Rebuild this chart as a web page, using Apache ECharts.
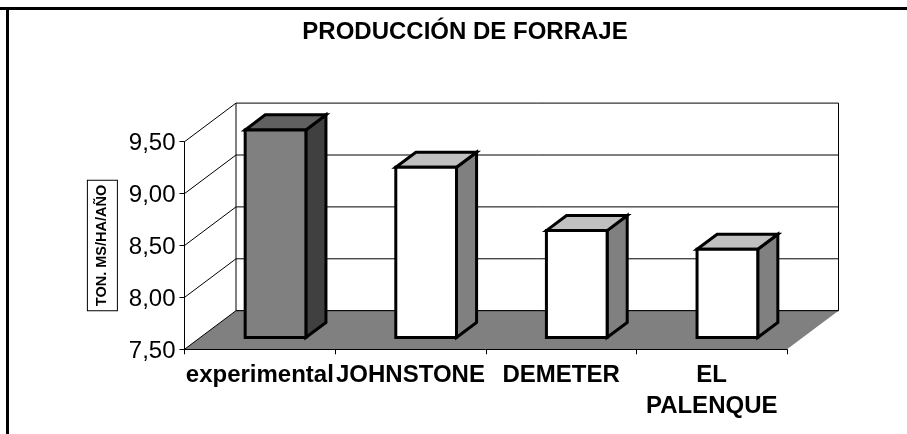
<!DOCTYPE html>
<html><head><meta charset="utf-8">
<style>html,body{margin:0;padding:0;background:#fff}#c{width:907px;height:434px}</style>
<script src="https://cdn.jsdelivr.net/npm/echarts@6/dist/echarts.min.js"></script>
</head><body><div id="c"></div>
<script>
const categories = ['experimental','JOHNSTONE','DEMETER','EL\nPALENQUE'];
const values = [9.50,9.14,8.53,8.35];
const gridValues = [8.0,8.5,9.0];
const titleText = 'PRODUCCIÓN DE FORRAJE';
const axisName = 'TON. MS/HA/AÑO';
const yMin = 7.5, yMax = 9.5, yStep = 0.5;
const depthX = 51.5, depthY = 38.6;      // oblique projection of the chart's depth
const barWidthRatio = 0.403, barDepthRatio = 0.39;
const FONT = '"Liberation Sans", Arial, sans-serif';
const faces = [
  {front:'#808080', top:'#606060', side:'#404040'},
  {front:'#ffffff', top:'#c0c0c0', side:'#808080'},
  {front:'#ffffff', top:'#c0c0c0', side:'#808080'},
  {front:'#ffffff', top:'#c0c0c0', side:'#808080'}
];
const chart = echarts.init(document.getElementById('c'), null, {renderer:'canvas'});
const thin = {stroke:'#000', lineWidth:1, fill:null};
function poly(points, fill, stroke, lw){
  return {type:'polygon', shape:{points}, style:{fill, stroke, lineWidth:lw, lineJoin:'miter'}};
}
function renderShell(params, api){
  const cs = params.coordSys;
  const x0 = cs.x, x1 = cs.x + cs.width;
  const yb = api.coord([0, yMin])[1], yt = api.coord([0, yMax])[1];
  return {type:'group', children:[
    poly([[x0,yb],[x0+depthX,yb-depthY],[x0+depthX,yt-depthY],[x0,yt]], '#fff', null, 0),
    poly([[x0+depthX,yb-depthY],[x1+depthX,yb-depthY],[x1+depthX,yt-depthY],[x0+depthX,yt-depthY]], '#fff', '#000', 1),
    poly([[x0,yb],[x1,yb],[x1+depthX,yb-depthY],[x0+depthX,yb-depthY]], '#808080', null, 0),
    {type:'line', shape:{x1:x0+depthX,y1:yb-depthY,x2:x1+depthX,y2:yb-depthY}, style:thin},
    {type:'line', shape:{x1:x0,y1:yb,x2:x0+depthX,y2:yb-depthY}, style:thin},
    {type:'line', shape:{x1:x0,y1:yt,x2:x0+depthX,y2:yt-depthY}, style:thin}
  ]};
}
function renderGrid(params, api){
  const cs = params.coordSys;
  const x0 = cs.x, x1 = cs.x + cs.width;
  const y = api.coord([0, api.value(0)])[1];
  return {type:'polyline', shape:{points:[[x0,y],[x0+depthX,y-depthY],[x1+depthX,y-depthY]]}, style:{stroke:'#000',lineWidth:1,fill:null}};
}
function renderBar(params, api){
  const i = api.value(0);
  const c = api.coord([i, api.value(1)]);
  const base = api.coord([i, yMin]);
  const band = api.size([1,0])[0];
  const w = band*barWidthRatio, gap = (1-barDepthRatio)/2;
  const ox = gap*depthX, oy = gap*depthY, dx = barDepthRatio*depthX, dy = barDepthRatio*depthY;
  const l = c[0]+ox-w/2, r = c[0]+ox+w/2, t = c[1]-oy, b = base[1]-oy;
  const f = faces[i], lw = 3;
  return {type:'group', children:[
    poly([[r,t],[r+dx,t-dy],[r+dx,b-dy],[r,b]], f.side, '#000', lw),
    poly([[l,t],[l+dx,t-dy],[r+dx,t-dy],[r,t]], f.top, '#000', lw),
    poly([[l,t],[r,t],[r,b],[l,b]], f.front, '#000', lw)
  ]};
}
chart.setOption({
  animation:false,
  backgroundColor:'#fff',
  title:{text:titleText, left:460, top:15, textAlign:'center',
    textStyle:{fontFamily:FONT, fontWeight:'bold', fontSize:24, color:'#000'}},
  grid:{left:184.5, right:120, top:141.7, bottom:84.7},
  xAxis:{type:'category', data:categories, z:10,
    axisLine:{show:true, lineStyle:{color:'#000',width:1}},
    axisTick:{show:true, length:5, lineStyle:{color:'#000',width:1}},
    axisLabel:{interval:0, margin:11, fontFamily:FONT, fontWeight:'bold', fontSize:24, lineHeight:31, color:'#000', hideOverlap:false},
    splitLine:{show:false}},
  yAxis:{type:'value', min:yMin, max:yMax, interval:yStep, z:10,
    name:axisName, nameLocation:'middle', nameRotate:90, nameGap:66,
    nameTextStyle:{fontFamily:FONT, fontWeight:'bold', fontSize:14.5, color:'#000',
      borderColor:'#000', borderWidth:1, backgroundColor:'#fff', padding:[7,4,7,4]},
    axisLine:{show:true, lineStyle:{color:'#000',width:1}},
    axisTick:{show:true, length:5, lineStyle:{color:'#000',width:1}},
    axisLabel:{margin:9, verticalAlign:'top', lineHeight:4, fontFamily:FONT, fontSize:24, color:'#000', formatter:v=>v.toFixed(2).replace('.',',')},
    splitLine:{show:false}},
  series:[
    {type:'custom', silent:true, z:1, coordinateSystem:'cartesian2d', data:[[0,yMin]], renderItem:renderShell, encode:{x:0,y:1}},
    {type:'custom', silent:true, z:2, coordinateSystem:'cartesian2d', data:gridValues.map(v=>[v]), renderItem:renderGrid, encode:{y:0}},
    {type:'custom', silent:true, z:3, coordinateSystem:'cartesian2d', data:values.map((v,i)=>[i,v]), renderItem:renderBar, encode:{x:0,y:1}}
  ],
  graphic:[
    {type:'rect', z:100, shape:{x:0,y:7,width:907,height:3}, style:{fill:'#000'}},
    {type:'rect', z:100, shape:{x:6,y:7,width:3,height:427}, style:{fill:'#000'}}
  ]
});
</script></body></html>
